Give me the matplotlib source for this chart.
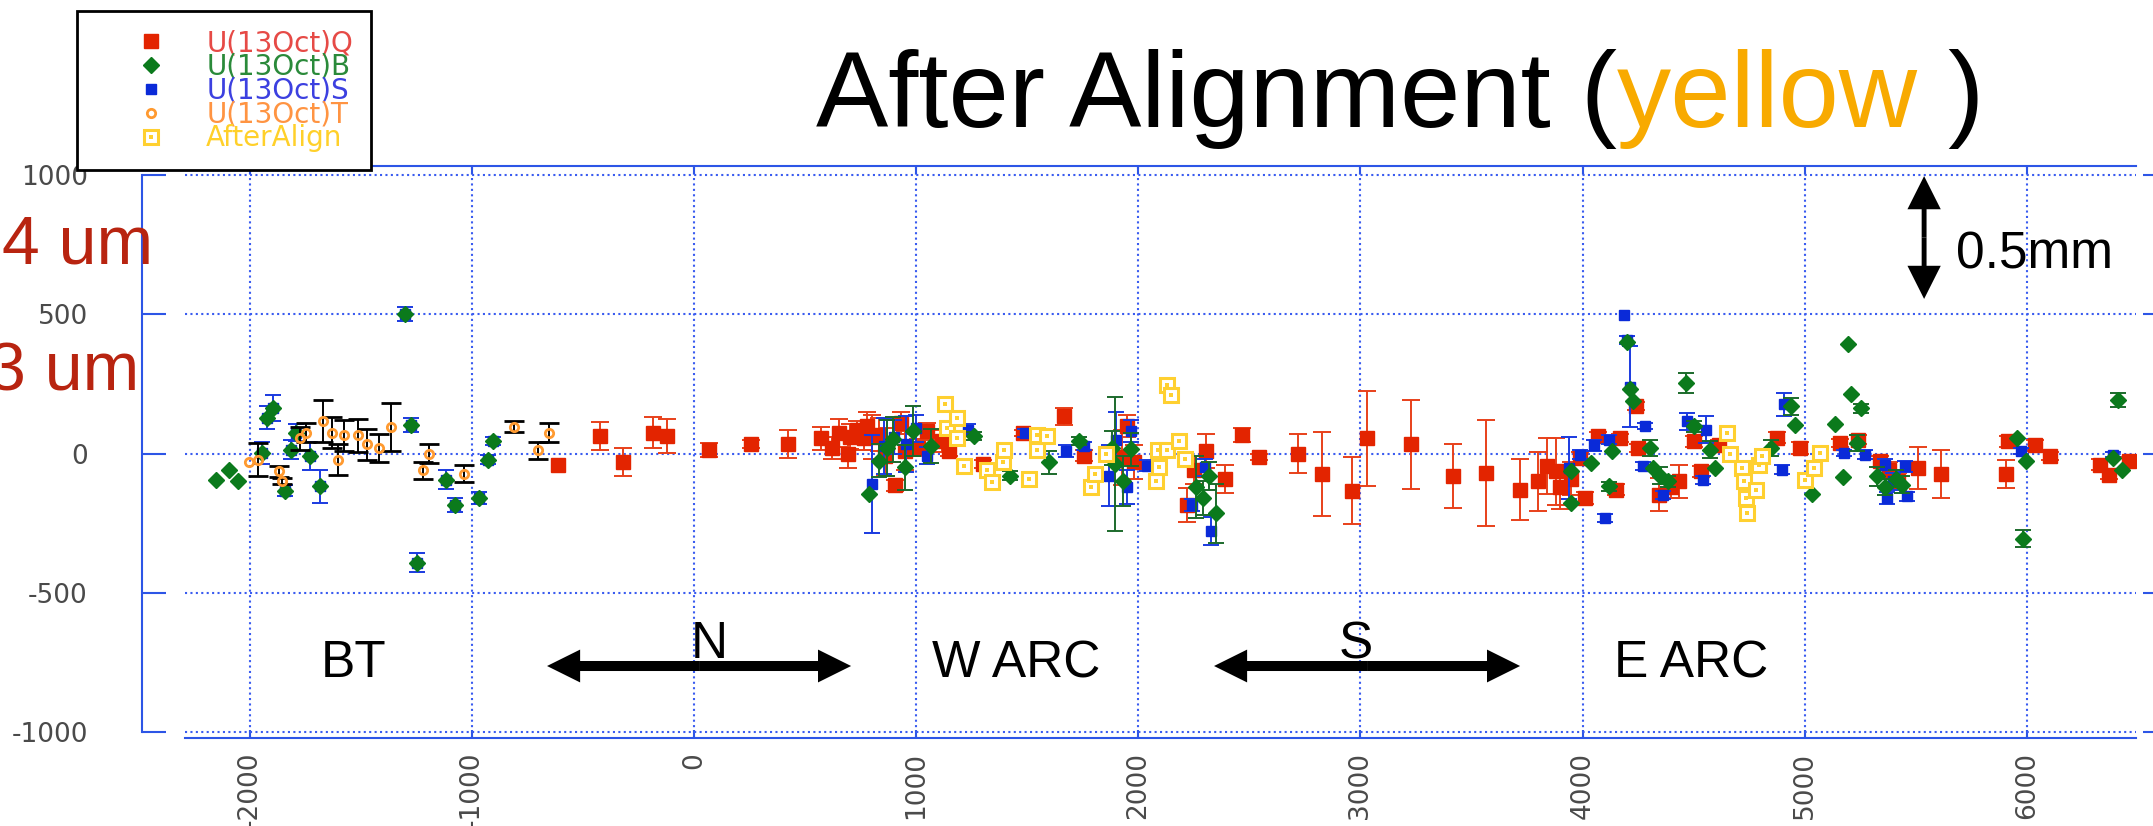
import numpy as np
import matplotlib
matplotlib.use("Agg")
import matplotlib.pyplot as plt
from matplotlib.lines import Line2D

plt.rcParams["axes.unicode_minus"] = False

# ---- data (x = position, y = offset in um) ----
q_x = [-611, -425, -322, -184, -121, 69, 255, 425, 571, 620, 652, 692, 700, 733, 763,
       780, 800, 834, 860, 870, 905, 930, 950, 1006, 1050, 1117, 1150, 1300, 1482, 1664,
       1755, 1927, 1950, 1980, 2220, 2250, 2307, 2389, 2469, 2544, 2720, 2828, 2963,
       3030, 3226, 3415, 3567, 3718, 3798, 3839, 3879, 3900, 3950, 3990, 4010, 4071,
       4151, 4171, 4242, 4252, 4343, 4400, 4433, 4504, 4534, 4615, 4877, 4978, 5159,
       5240, 5341, 5380, 5420, 5512, 5613, 5905, 5915, 6036, 6107, 6329, 6369, 6460]
q_y = [-43, 63, -30, 75, 63, 14, 35, 35, 54, 20, 74, -2, 60, 86, 54,
       100, 60, 68, -10, 30, -114, 110, 10, 21, 80, 45, 10, -38, 74, 133,
       -8, -14, 100, -30, -185, -60, 9, -91, 68, -12, 0, -73, -134,
       54, 33, -82, -70, -130, -100, -46, -64, -120, -90, -16, -160, 62,
       -130, 56, 170, 20, -148, -120, -100, 44, -64, 32, 56, 20, 38,
       50, -28, -60, -100, -52, -73, -73, 44, 30, -10, -40, -76, -28]
q_err = [0, 50, 50, 55, 60, 25, 15, 50, 40, 40, 50, 50, 45, 30, 40,
         50, 80, 60, 70, 60, 20, 40, 70, 30, 30, 40, 20, 15, 10, 30,
         20, 100, 40, 60, 60, 50, 60, 50, 25, 10, 70, 150, 120,
         170, 160, 115, 190, 110, 105, 100, 120, 80, 60, 20, 20, 15,
         20, 15, 15, 15, 60, 40, 60, 20, 20, 15, 20, 20, 15,
         15, 20, 30, 30, 75, 85, 50, 20, 20, 15, 20, 15, 15]

s_x = [-1945, -1923, -1898, -1841, -1816, -1790, -1730, -1683, -1300, -1274, -1248,
       -1119, -1076, -969, -930, -904, 800, 854, 900, 955, 1000, 1047, 1235, 1492, 1674,
       1755, 1866, 1900, 1950, 1967, 2038, 2241, 2301, 2328, 3940, 3990, 4050, 4101,
       4120, 4187, 4202, 4215, 4272, 4282, 4363, 4470, 4544, 4554, 4897, 4907, 5179,
       5270, 5361, 5371, 5400, 5452, 5462, 5976, 6389]
s_y = [2, 129, 163, -134, 14, 75, -10, -118, 502, 102, -392,
       -94, -184, -160, -22, 45, -110, 27, 60, 33, 90, -8, 86, 74, 9,
       27, -79, 50, -120, 80, -44, -185, -50, -279, -52, -4, 30, -232,
       50, 498, 407, 240, -46, 98, -148, 116, -94, 86, -58, 176, 2,
       -4, -40, -160, -100, -46, -154, 8, -4]
s_err = [40, 42, 47, 20, 35, 30, 50, 60, 25, 25, 35,
         35, 25, 20, 15, 15, 175, 100, 60, 100, 50, 30, 20, 15, 20,
         15, 110, 100, 60, 40, 20, 20, 30, 50, 110, 15, 20, 15,
         15, 0, 15, 145, 15, 10, 15, 30, 15, 50, 15, 40, 10,
         15, 20, 20, 30, 20, 15, 10, 10]

b_x = [-2151, -2095, -2053, -1945, -1923, -1898, -1841, -1816, -1790, -1730, -1683,
       -1300, -1274, -1248, -1119, -1076, -969, -930, -904, 789, 834, 870, 895, 950,
       985, 1067, 1259, 1421, 1599, 1735, 1880, 1897, 1930, 1967, 2260, 2290, 2320,
       2351, 3946, 3950, 4040, 4121, 4131, 4202, 4212, 4228, 4302, 4316, 4350, 4383,
       4464, 4504, 4575, 4595, 4847, 4937, 4958, 5034, 5139, 5175, 5195, 5209, 5236,
       5256, 5327, 5360, 5410, 5438, 5955, 5982, 5996, 6389, 6409, 6429]
b_y = [-94, -60, -98, 2, 129, 163, -134, 14, 75, -10, -118,
       502, 102, -392, -94, -184, -160, -22, 45, -144, -26, 20, 51, -50,
       80, 27, 62, -79, -32, 45, 20, -38, -100, 15, -120, -160, -80,
       -215, -178, -64, -34, -118, 8, 402, 233, 188, 20, -52, -80, -100,
       254, 98, 14, -52, 20, 170, 104, -145, 107, -85, 392, 212, 38,
       162, -82, -120, -90, -112, 56, -306, -28, -16, 191, -58]
b_err = [0, 0, 0, 0, 0, 0, 0, 0, 0, 0, 0,
         0, 0, 0, 0, 0, 0, 0, 0, 0, 60, 100, 80, 80,
         90, 60, 15, 15, 40, 15, 60, 240, 90, 60, 110, 60, 50,
         105, 0, 0, 0, 15, 0, 0, 0, 0, 30, 0, 30, 20,
         35, 20, 30, 0, 30, 30, 0, 0, 0, 0, 0, 0, 30,
         15, 35, 30, 30, 30, 0, 30, 0, 0, 25, 0]

t_x = [-2002, -1962, -1867, -1854, -1776, -1747, -1670, -1630, -1604, -1578, -1511,
       -1472, -1420, -1365, -1219, -1193, -1038, -809, -703, -651]
t_y = [-30, -22, -64, -98, 54, 75, 117, 75, -22, 65, 65,
       33, 20, 95, -61, 0, -73, 96, 11, 75]
t_err = [0, 58, 20, 10, 40, 35, 75, 55, 55, 55, 58,
         55, 50, 85, 30, 35, 30, 20, 30, 35]

a_x = [1132, 1138, 1182, 1182, 1214, 1320, 1340, 1391, 1397, 1506, 1542, 1542, 1587,
       1785, 1805, 1856, 2080, 2090, 2094, 2129, 2129, 2149, 2185, 2210,
       4651, 4665, 4716, 4726, 4736, 4742, 4780, 4796, 4810, 5003, 5044, 5070]
a_y = [178, 92, 127, 54, -44, -61, -103, -32, 12, -91, 12, 66, 62,
       -120, -73, 0, -97, 12, -50, 245, 12, 210, 45, -20,
       74, 0, -52, -100, -160, -214, -130, -40, -10, -94, -52, 2]

x_ticks = [-2000, -1000, 0, 1000, 2000, 3000, 4000, 5000, 6000]
y_ticks = [-1000, -500, 0, 500, 1000]

labels = ["U(13Oct)Q", "U(13Oct)B", "U(13Oct)S", "U(13Oct)T", "AfterAlign"]
label_colors = ["#e64a46", "#2a8a3a", "#3c40e0", "#ff9442", "#ffd02a"]

W, H = 2153, 826
BLUE = "#2d55e6"
GREY = "#4a4a4a"
SANS = "Liberation Sans"


def bars(err):
    err = np.asarray(err, dtype=float)
    return np.where(err > 0, err, np.nan)


fig = plt.figure(figsize=(W / 100, H / 100), dpi=100)
ax = fig.add_axes([185 / W, 1 - 738 / H, (2136 - 185) / W, (738 - 166) / H])

ax.errorbar(q_x, q_y, yerr=bars(q_err), fmt="s", ms=10.5, color="#e32400",
            ecolor="#e8401a", elinewidth=1.4, capsize=6.5, capthick=1.4, zorder=3)
ax.errorbar(s_x, s_y, yerr=bars(s_err), fmt="s", ms=7.5, color="#0a2ad8",
            ecolor="#1a3ae0", elinewidth=1.4, capsize=6, capthick=1.4, zorder=4)
ax.errorbar(b_x, b_y, yerr=bars(b_err), fmt="D", ms=7.8, color="#0b7a1c",
            ecolor="#1c6a2c", elinewidth=1.4, capsize=6, capthick=1.4, zorder=5)
ax.errorbar(t_x, t_y, yerr=bars(t_err), fmt="o", ms=6, mfc="none", mec="#ff9a30",
            mew=2, ecolor="black", elinewidth=1.4, capsize=7, capthick=1.4, zorder=6)
ax.plot(a_x, a_y, "s", ms=9.5, mfc="white", mec="#ffd030", mew=2.2, zorder=7)
ax.plot(a_x, a_y, "s", ms=2.2, color="#ffd030", mew=0, zorder=8)

ax.set_xlim(-2292, 6492)
ax.set_ylim(-1021.5, 1032.3)
ax.set_xticks(x_ticks)
ax.set_yticks(y_ticks)
ax.grid(True, color="#3a5cf0", linestyle=(0, (1, 1.6)), linewidth=1.5)
ax.set_axisbelow(True)

for side in ("top", "bottom"):
    ax.spines[side].set_color(BLUE)
    ax.spines[side].set_linewidth(1.5)
ax.spines["left"].set_position(("outward", 31))
ax.spines["left"].set_bounds(-1000, 1000)
ax.spines["left"].set_color(BLUE)
ax.spines["left"].set_linewidth(1.5)
ax.spines["right"].set_position(("outward", 22.3))
ax.spines["right"].set_color("none")

ax.xaxis.set_ticks_position("both")
ax.yaxis.set_ticks_position("both")
ax.tick_params(axis="y", direction="in", length=17.3, width=1.5, color=BLUE,
               labelsize=19, labelcolor=GREY, pad=39, labelright=False)
ax.tick_params(axis="x", direction="in", length=6, width=1.5, color=BLUE,
               labelsize=19, labelcolor=GREY, pad=10, labelrotation=90, labeltop=False)

# region labels and arrows
for txt, xx, yy in [("BT", -1680, -803), ("W ARC", 1070, -803), ("E ARC", 4140, -803),
                    ("N", -15, -735), ("S", 2900, -735)]:
    ax.text(xx, yy, txt, fontsize=37, family=SANS, va="baseline", ha="left")

arrow_kw = dict(width=36, head_width=118, head_length=149, length_includes_head=True,
                color="black", lw=0, zorder=9)
for x0, x1 in [(-662, 707), (2341, 3719)]:
    mid = (x0 + x1) / 2
    ax.arrow(mid, -763, x0 - mid, 0, **arrow_kw)
    ax.arrow(mid, -763, x1 - mid, 0, **arrow_kw)
v_kw = dict(width=22, head_width=150, head_length=119, length_includes_head=True,
            color="black", lw=0, zorder=9)
ax.arrow(5538, 776, 0, 996 - 776, **v_kw)
ax.arrow(5538, 776, 0, 555 - 776, **v_kw)
ax.text(5682, 666, "0.5mm", fontsize=37, family=SANS, va="baseline", ha="left")

# side notes
fig.text(2 / W, 1 - 263 / H, "4 um", fontsize=49, family=SANS, color="#b82410",
         va="baseline", ha="left")
fig.text(-12 / W, 1 - 391 / H, "3 um", fontsize=49, family=SANS, color="#b82410",
         va="baseline", ha="left")

# title in three colours
t1 = fig.text(816 / W, 1 - 127 / H, "After Alignment (", fontsize=78, family=SANS,
              va="baseline", ha="left")
t2 = ax.annotate("yellow", xy=(1, 0), xycoords=t1, fontsize=78, family=SANS,
                 color="#f8aa00", va="bottom", ha="left", annotation_clip=False)
ax.annotate(" )", xy=(1, 0), xycoords=t2, fontsize=78, family=SANS,
            va="bottom", ha="left", annotation_clip=False)

# legend
handles = [
    Line2D([], [], ls="none", marker="s", ms=10.5, color="#e32400"),
    Line2D([], [], ls="none", marker="D", ms=7.8, color="#0b7a1c"),
    Line2D([], [], ls="none", marker="s", ms=6.5, color="#0a2ad8"),
    Line2D([], [], ls="none", marker="o", ms=6, mfc="none", mec="#ff9a30", mew=2),
    (Line2D([], [], ls="none", marker="s", ms=9.5, mfc="white", mec="#ffd030", mew=2.2),
     Line2D([], [], ls="none", marker="s", ms=2.2, color="#ffd030", mew=0)),
]
leg = ax.legend(handles, labels, loc="upper left", bbox_to_anchor=(77 / W, 1 - 11 / H),
                bbox_transform=fig.transFigure, borderaxespad=0, borderpad=0.65,
                handlelength=4.0, handletextpad=0.0, labelspacing=-0.15,
                fancybox=False, framealpha=1, edgecolor="black", fontsize=20,
                labelcolor=label_colors)
leg.get_frame().set_linewidth(2)
leg.set_zorder(20)

fig.savefig("out.png", dpi=100)
